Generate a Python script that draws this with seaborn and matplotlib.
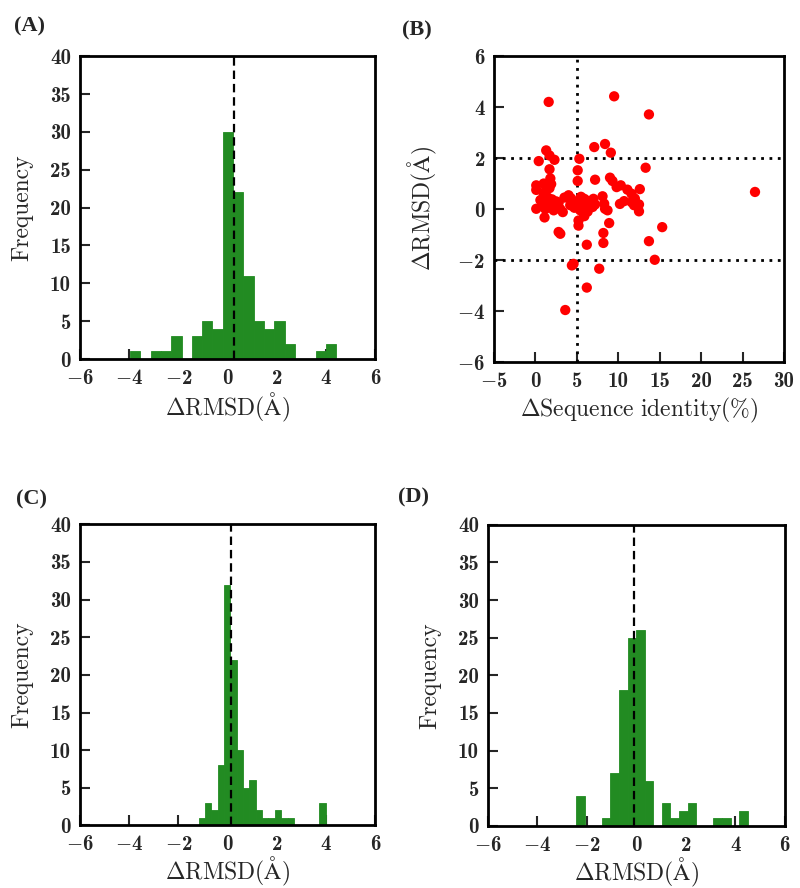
import numpy as np
import pandas as pd
import matplotlib
matplotlib.use("Agg")
import matplotlib.pyplot as plt
from matplotlib.ticker import FuncFormatter
import seaborn as sns

# ---------------- data ----------------
# Panel A: histogram of dRMSD (20 bins)
a_range = (-3.97, 4.42)
a_counts = [1, 0, 1, 1, 3, 0, 3, 5, 4, 30, 22, 11, 5, 4, 5, 2, 0, 0, 1, 2]
a_line = 0.27

# Panel C
c_range = (-1.17, 3.98)
c_counts = [1, 3, 2, 8, 32, 22, 10, 5, 6, 2, 1, 1, 2, 1, 1, 0, 0, 0, 0, 3]
c_line = 0.12

# Panel D
d_range = (-2.44, 4.50)
d_counts = [4, 0, 0, 1, 7, 18, 25, 26, 6, 0, 3, 1, 2, 3, 0, 0, 1, 1, 0, 2]
d_line = -0.08

# Panel B: scatter of dSequence identity vs dRMSD
b_seq = [1.6, 9.5, 13.7, 8.4, 7.1, 1.3, 9.1, 1.7, 2.3, 5.3, 0.4, 13.3, 1.7, 5.1,
         7.2, 9.0, 9.3, 5.1, 1.8,
         0.1, 0.1, 1.0, 1.9, 1.7, 9.8, 10.3, 11.1, 12.6, 26.5, 1.2,
         11.6, 12.0, 10.7, 11.6, 8.1, 4.0, 4.3, 4.6, 5.5, 5.9, 6.2, 6.6, 5.2, 1.0,
         1.5, 2.0, 2.5, 0.6, 1.3, 2.8, 3.5, 7.0,
         0.1, 12.5, 12.5, 8.3, 8.4, 8.7, 3.3, 1.5, 2.0, 2.5, 3.0, 0.8, 1.2, 1.8,
         5.2, 5.4, 5.7, 6.0, 6.3, 6.5, 6.9, 5.1, 5.8, 4.2, 4.7, 10.2, 11.9, 2.2,
         6.1, 7.2,
         1.1, 8.9, 5.2, 5.9,
         2.8, 3.0, 8.2, 15.3, 5.2,
         6.2, 8.2, 13.7,
         4.4, 4.6, 14.4,
         7.7, 6.2, 3.6]
b_drmsd = [4.20, 4.42, 3.71, 2.55, 2.43, 2.30, 2.21, 2.10, 1.93, 1.97, 1.88, 1.62, 1.56, 1.52,
           1.15, 1.23, 1.10, 1.10, 1.20,
           0.93, 0.75, 1.00, 0.98, 0.82, 0.86, 0.93, 0.76, 0.78, 0.67, 0.70,
           0.60, 0.41, 0.31, 0.27, 0.50, 0.54, 0.42, 0.30, 0.48, 0.40, 0.33, 0.25, 0.28, 0.55,
           0.45, 0.38, 0.30, 0.35, 0.25, 0.25, 0.45, 0.40,
           0.01, 0.18, -0.09, 0.21, 0.01, -0.05, -0.12, 0.10, 0.05, 0.15, 0.00, 0.12, 0.00, 0.20,
           0.10, -0.05, 0.15, 0.00, -0.10, 0.12, 0.08, 0.20, -0.15, 0.15, 0.05, 0.20, 0.15, -0.05,
           0.22, 0.18,
           -0.33, -0.55, -0.45, -0.28,
           -0.90, -0.97, -0.94, -0.71, -0.65,
           -1.40, -1.33, -1.26,
           -2.21, -2.15, -1.99,
           -2.34, -3.08, -3.96]
b_hlines = [2, -2]
b_vline = 5

# ---------------- style ----------------
sns.set_style("ticks")
plt.rcParams["font.family"] = ["cmr10", "STIXGeneral", "DejaVu Serif"]
plt.rcParams["mathtext.fontset"] = "cm"
plt.rcParams["axes.formatter.use_mathtext"] = True

GREEN = "#228b22"
LABEL_FS = 17
TICK_FS = 15

RMSD_LABEL = r"$\Delta\mathrm{RMSD(Å)}$"
SEQ_LABEL = r"$\Delta\mathrm{Sequence\ identity(\%)}$"

fig = plt.figure(figsize=(8, 8.88), dpi=100)

rects = {
    "A": [0.100, 0.5957, 0.369, 0.341],
    "B": [0.6175, 0.5923, 0.3625, 0.3446],
    "C": [0.100, 0.0705, 0.369, 0.339],
    "D": [0.610, 0.0700, 0.371, 0.339],
}


def tick_text(v, pos):
    s = "%g" % abs(v)
    return (r"$-$" + s) if v < 0 else s


fmt = FuncFormatter(tick_text)


def style_axes(ax):
    for s in ax.spines.values():
        s.set_linewidth(2.0)
        s.set_color("black")
    ax.xaxis.set_major_formatter(fmt)
    ax.yaxis.set_major_formatter(fmt)
    ax.tick_params(direction="in", length=7, width=1.5, top=False, right=False,
                   labelsize=TICK_FS)
    ax.tick_params(axis="x", pad=7)
    ax.tick_params(axis="y", pad=6.5)
    for lab in ax.get_xticklabels() + ax.get_yticklabels():
        lab.set_fontfamily("cmb10")


def hist_panel(ax, rng, counts, vline, label_y):
    n = len(counts)
    w = (rng[1] - rng[0]) / n
    centers = [rng[0] + w * (i + 0.5) for i in range(n)]
    df = pd.DataFrame({"x": centers, "w": counts})
    sns.histplot(data=df, x="x", weights="w", bins=n, binrange=rng, ax=ax,
                 color=GREEN, alpha=1.0, edgecolor=GREEN, linewidth=0.6)
    ax.axvline(vline, color="black", ls=(0, (3.8, 2.2)), lw=1.6)
    ax.set_xlim(-6, 6)
    ax.set_ylim(0, 40)
    ax.set_xticks(range(-6, 7, 2))
    ax.set_yticks(range(0, 41, 5))
    ax.set_xlabel(RMSD_LABEL, fontsize=LABEL_FS)
    ax.set_ylabel("Frequency", fontsize=LABEL_FS)
    ax.xaxis.set_label_coords(0.5, label_y)
    ax.yaxis.set_label_coords(-0.158, 0.5)
    style_axes(ax)


axA = fig.add_axes(rects["A"])
hist_panel(axA, a_range, a_counts, a_line, -0.106)

axC = fig.add_axes(rects["C"])
hist_panel(axC, c_range, c_counts, c_line, -0.099)

axD = fig.add_axes(rects["D"])
hist_panel(axD, d_range, d_counts, d_line, -0.099)

axB = fig.add_axes(rects["B"])
dfb = pd.DataFrame({"seq": b_seq, "drmsd": b_drmsd})
sns.scatterplot(data=dfb, x="seq", y="drmsd", ax=axB, color="red", s=55,
                edgecolor="none", zorder=3)
for h in b_hlines:
    axB.axhline(h, color="black", ls=(0, (1, 2)), lw=2.0, zorder=2)
axB.axvline(b_vline, color="black", ls=(0, (1, 2)), lw=2.0, zorder=2)
axB.set_xlim(-5, 30)
axB.set_ylim(-6, 6)
axB.set_xticks(range(-5, 31, 5))
axB.set_yticks(range(-6, 7, 2))
axB.set_xlabel(SEQ_LABEL, fontsize=LABEL_FS)
axB.set_ylabel(RMSD_LABEL, fontsize=LABEL_FS)
axB.xaxis.set_label_coords(0.5, -0.112)
axB.yaxis.set_label_coords(-0.19, 0.5)
style_axes(axB)

panel_font = dict(family=["Liberation Serif", "DejaVu Serif"], weight="bold", fontsize=16,
                  ha="left", va="center")
fig.text(0.018, 0.970, "(A)", **panel_font)
fig.text(0.502, 0.966, "(B)", **panel_font)
fig.text(0.020, 0.437, "(C)", **panel_font)
fig.text(0.498, 0.440, "(D)", **panel_font)

fig.savefig("out.png", dpi=100)
